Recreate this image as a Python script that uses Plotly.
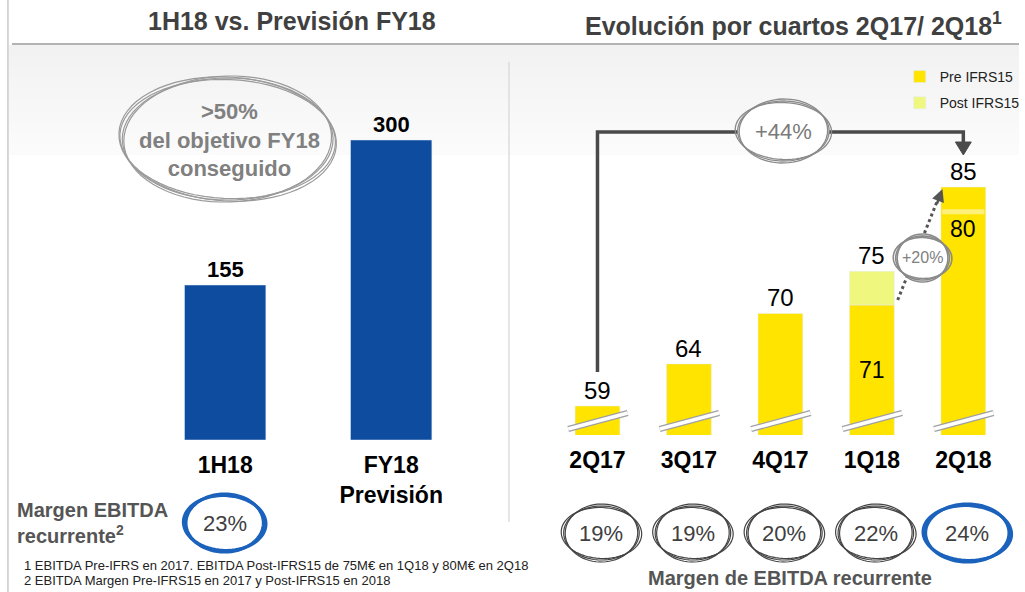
import math
import numpy as np
import plotly.graph_objects as go

W, H = 1025, 592
FONT = "Arial, 'Liberation Sans', sans-serif"

# ---------------- data ----------------
left_title = "1H18 vs. Previsión FY18"
left_categories = ["1H18", "FY18<br>Previsión"]
left_values = [155, 300]
left_note = ">50%<br>del objetivo FY18<br>conseguido"
left_margin_label = "Margen EBITDA<br>recurrente<sup>2</sup>"
left_margin = "23%"

right_title = "Evolución por cuartos 2Q17/ 2Q18<sup>1</sup>"
quarters = ["2Q17", "3Q17", "4Q17", "1Q18", "2Q18"]
pre_ifrs15 = [59, 64, 70, 71, 85]
post_ifrs15 = [None, None, None, 75, 80]
quarter_margins = ["19%", "19%", "20%", "22%", "24%"]
growth_total = "+44%"
growth_last = "+20%"
margin_caption = "Margen de EBITDA recurrente"
footnotes = [
    "1 EBITDA Pre-IFRS en 2017. EBITDA Post-IFRS15 de 75M€ en 1Q18 y 80M€ en 2Q18",
    "2 EBITDA Margen Pre-IFRS15 en 2017 y Post-IFRS15 en 2018",
]

# ---------------- styles ----------------
BLUE_BAR = "#0D4C9E"
YELLOW = "#FFE400"
LIGHT_YELLOW = "#EFF77E"
DARK = "#404040"
SKETCH_BLUE = "#1B62BC"

# layout geometry (pixels)
L_X0, L_X1 = 143, 477
L_YB, L_YT = 440, 110
R_X0, R_X1 = 555, 1015
R_YB, R_YT = 435, 110
R_SCALE = 8.42  # px per unit on the broken right axis
r0 = pre_ifrs15[0] - 29 / R_SCALE
r1 = r0 + (R_YB - R_YT) / R_SCALE


def px(x):
    return x / W


def py(y):
    return 1 - y / H


def cat_px(i):
    step = (R_X1 - R_X0) / len(quarters)
    return R_X0 + (i + 0.5) * step


shapes = []
annotations = []


def add_text(**kw):
    kw.setdefault("xanchor", "center")
    kw.setdefault("yanchor", "middle")
    kw.setdefault("showarrow", False)
    annotations.append(kw)


# background gradient under the title rule
for i in range(10):
    g = 242 + i
    shapes.append(dict(type="rect", xref="paper", yref="paper", layer="below",
                       x0=px(9), x1=1, y0=py(45 + i * 11), y1=py(56 + i * 11),
                       fillcolor=f"rgb({g},{g},{g})", line_width=0))

# frame lines
shapes.append(dict(type="line", xref="paper", yref="paper", x0=px(8), x1=px(8), y0=0, y1=1,
                   line=dict(color="#c9c9c9", width=1.5)))
shapes.append(dict(type="line", xref="paper", yref="paper", x0=px(12), x1=1, y0=py(44), y1=py(44),
                   line=dict(color="#9a9a9a", width=1.5)))
shapes.append(dict(type="line", xref="paper", yref="paper", x0=px(512), x1=px(512), y0=py(62), y1=py(522),
                   line=dict(color="#dcdcdc", width=1.5)))


def ellipse_path(cx, cy, rx, ry, rot=0.0, start=0.0, sweep=2 * math.pi, n=72):
    pts = []
    for t in np.linspace(start, start + sweep, n):
        x = rx * math.cos(t)
        y = ry * math.sin(t)
        xr = x * math.cos(rot) - y * math.sin(rot)
        yr = x * math.sin(rot) + y * math.cos(rot)
        pts.append((px(cx + xr), py(cy + yr)))
    return "M" + " L".join(f"{a:.5f},{b:.5f}" for a, b in pts)


def sketch_ellipse(cx, cy, rx, ry, color, width, fill=None, strokes=3):
    if fill:
        shapes.append(dict(type="circle", xref="paper", yref="paper",
                           x0=px(cx - rx), x1=px(cx + rx), y0=py(cy + ry), y1=py(cy - ry),
                           fillcolor=fill, line_width=0))
    jit = [(0, 0, 0.0, 0.2), (2.5, -1.5, 0.04, 1.4), (-1.5, 2.0, -0.03, 2.6), (3.5, 1.0, 0.06, 3.9)]
    for k in range(strokes):
        dr, dr2, rot, st = jit[k]
        shapes.append(dict(type="path", xref="paper", yref="paper",
                           path=ellipse_path(cx, cy, rx + dr, ry + dr2, rot, st, 2 * math.pi * 1.04),
                           line=dict(color=color, width=width)))


# ---------------- traces ----------------
fig = go.Figure()
fig.add_trace(go.Bar(x=left_categories, y=left_values, marker_color=BLUE_BAR, width=0.49,
                     xaxis="x", yaxis="y", showlegend=False, hoverinfo="x+y"))

fig.add_trace(go.Bar(x=quarters, y=pre_ifrs15, name="Pre IFRS15", marker_color=YELLOW,
                     width=0.49, xaxis="x2", yaxis="y2", legendgroup="a"))
post_inc = [(p - b) if (p is not None and p > b) else None for p, b in zip(post_ifrs15, pre_ifrs15)]
fig.add_trace(go.Bar(x=quarters, y=post_inc, base=pre_ifrs15, name="Post IFRS15",
                     marker_color=LIGHT_YELLOW, width=0.49, xaxis="x2", yaxis="y2", legendgroup="b"))

# ---------------- left annotations ----------------
for c, v in zip(left_categories, left_values):
    add_text(x=c, y=v, xref="x", yref="y", text=f"<b>{v}</b>", yanchor="bottom", yshift=1,
             font=dict(size=22, color="black", family=FONT))

sketch_ellipse(229, 139, 106, 61, "#9a9a9a", 1.2, strokes=4)
add_text(x=px(231), y=py(140), xref="paper", yref="paper", text=f"<b>{left_note}</b>",
         font=dict(size=22, color="#808080", family=FONT))

add_text(x=px(15), y=py(523), xref="paper", yref="paper", text=f"<b>{left_margin_label}</b>",
         xanchor="left", align="left", font=dict(size=20, color="#555555", family=FONT))
sketch_ellipse(226, 523, 39, 29, SKETCH_BLUE, 3.2, strokes=2)
add_text(x=px(226), y=py(523), xref="paper", yref="paper", text=left_margin,
         font=dict(size=22, color=DARK, family=FONT))

for i, t in enumerate(footnotes):
    add_text(x=px(22), y=py(565 + 15 * i), xref="paper", yref="paper", text=t,
             xanchor="left", font=dict(size=13, color="#222222", family=FONT))

# ---------------- right annotations ----------------
for i, q in enumerate(quarters):
    top = max(v for v in (pre_ifrs15[i], post_ifrs15[i]) if v is not None)
    add_text(x=q, y=top, xref="x2", yref="y2", text=str(top), yanchor="bottom", yshift=0,
             font=dict(size=24, color="black", family=FONT))
    # axis break marks
    for col, wdt in (("#a0a0a0", 6), ("white", 3.5)):
        shapes.append(dict(type="line", xref="x2", yref="paper", x0=i - 0.32, x1=i + 0.33,
                           y0=py(429), y1=py(413), line=dict(color=col, width=wdt)))

# value inside 1Q18 (pre) and 2Q18 (post)
add_text(x=quarters[3], y=(r0 + pre_ifrs15[3]) / 2, xref="x2", yref="y2",
         text=str(pre_ifrs15[3]), font=dict(size=23, color="black", family=FONT))
shapes.append(dict(type="rect", xref="x2", yref="y2", ysizemode="pixel", yanchor=post_ifrs15[4],
                   x0=4 - 0.23, x1=4 + 0.23, y0=15, y1=20, fillcolor="#FFF07A", line_width=0))
add_text(x=quarters[4], y=post_ifrs15[4], xref="x2", yref="y2",
         text=str(post_ifrs15[4]), font=dict(size=23, color="black", family=FONT))

# elbow arrow 2Q17 -> 2Q18
xa, xb = cat_px(0), cat_px(4)
ytop = 132
shapes.append(dict(type="path", xref="paper", yref="paper",
                   path=f"M{px(xa)},{py(372)} L{px(xa)},{py(ytop)} L{px(xb)},{py(ytop)} L{px(xb)},{py(146)}",
                   line=dict(color="#4a4a4a", width=3.5)))
shapes.append(dict(type="path", xref="paper", yref="paper",
                   path=f"M{px(xb - 8)},{py(142)} L{px(xb + 8)},{py(142)} L{px(xb)},{py(155)} Z",
                   fillcolor="#4a4a4a", line=dict(color="#4a4a4a", width=1)))
sketch_ellipse(788, 131, 46, 30, "#8a8a8a", 1.3, fill="white", strokes=3)
add_text(x=px(788), y=py(131), xref="paper", yref="paper", text=growth_total,
         font=dict(size=22, color="#7a7a7a", family=FONT))

# dotted arrow 1Q18 -> 2Q18
shapes.append(dict(type="line", xref="paper", yref="paper", x0=px(903), y0=py(300), x1=px(944), y1=py(198),
                   line=dict(color="#555555", width=3, dash="dot")))
annotations.append(dict(x=px(948), y=py(189), xref="paper", yref="paper", text="", showarrow=True,
                        ax=-6, ay=16, arrowhead=2, arrowsize=1, arrowwidth=2.5, arrowcolor="#555555"))
sketch_ellipse(928, 258, 27, 22, "#8a8a8a", 1.6, fill="white", strokes=3)
add_text(x=px(928), y=py(258), xref="paper", yref="paper", text=growth_last,
         font=dict(size=16, color="#808080", family=FONT))

# margin circles
for i, m in enumerate(quarter_margins):
    cx = cat_px(i) + 4
    last = i == len(quarter_margins) - 1
    sketch_ellipse(cx, 533, 42 if last else 38, 29 if last else 27,
                   SKETCH_BLUE if last else "#444444", 3.2 if last else 1.2, strokes=2 if last else 3)
    add_text(x=px(cx), y=py(533), xref="paper", yref="paper", text=m,
             font=dict(size=22, color=DARK, family=FONT))
add_text(x=px(795), y=py(578), xref="paper", yref="paper", text=f"<b>{margin_caption}</b>",
         font=dict(size=20, color="#555555", family=FONT))

# titles
add_text(x=px(294), y=py(21), xref="paper", yref="paper", text=f"<b>{left_title}</b>",
         font=dict(size=25, color=DARK, family=FONT))
add_text(x=px(798), y=py(24), xref="paper", yref="paper", text=f"<b>{right_title}</b>",
         font=dict(size=25, color=DARK, family=FONT))

axis_common = dict(showgrid=False, zeroline=False, showline=False, ticks="", type="category",
                   tickfont=dict(size=23, color="black", family=FONT, weight="bold"),
                   ticklabelstandoff=9, fixedrange=True)

fig.update_layout(
    width=W, height=H,
    margin=dict(l=0, r=0, t=0, b=0),
    paper_bgcolor="white", plot_bgcolor="rgba(0,0,0,0)",
    barmode="overlay",
    font=dict(family=FONT),
    xaxis=dict(domain=[px(L_X0), px(L_X1)], anchor="y", range=[-0.5, 1.5], **axis_common),
    yaxis=dict(domain=[py(L_YB), py(L_YT)], range=[0, 330], visible=False, fixedrange=True),
    xaxis2=dict(domain=[px(R_X0), px(R_X1)], anchor="y2", range=[-0.5, 4.5], **axis_common),
    yaxis2=dict(domain=[py(R_YB), py(R_YT)], range=[r0, r1], visible=False, fixedrange=True),
    legend=dict(x=px(905), y=py(61), xanchor="left", yanchor="top", traceorder="grouped",
                tracegroupgap=5, bgcolor="rgba(0,0,0,0)", itemwidth=30,
                font=dict(size=14, color="#222222", family=FONT)),
    shapes=shapes,
    annotations=annotations,
)

fig.write_html("out.html", config={"displayModeBar": False},
               post_script="document.body.style.margin='0';document.body.style.overflow='hidden';")
